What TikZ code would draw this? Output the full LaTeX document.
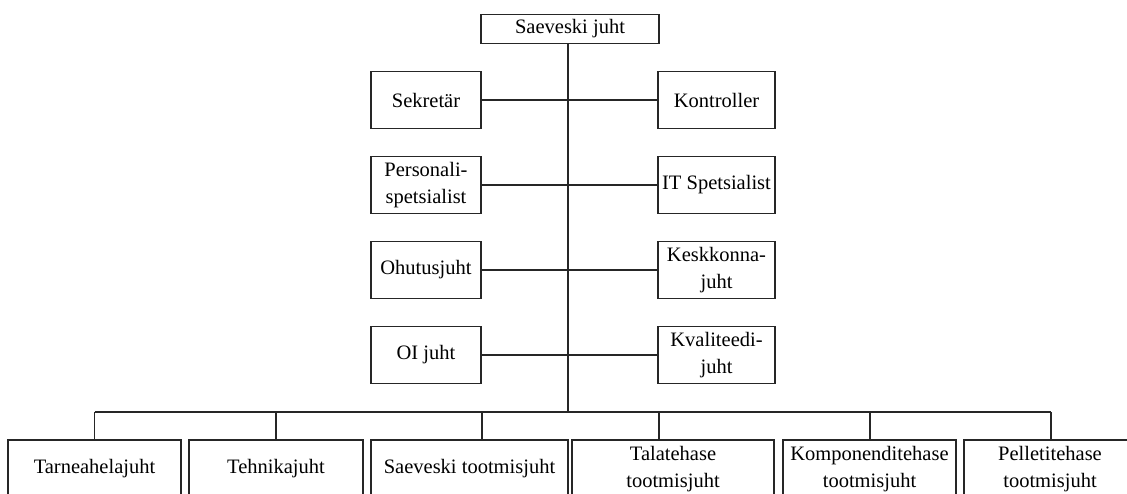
\documentclass[tikz,border=0pt]{standalone}
\usepackage{fontspec}
\setmainfont{Liberation Serif}
\begin{document}
\begin{tikzpicture}[x=1pt,y=-1pt,
  box/.style={draw=black!85, line width=1.3pt, fill=white, rectangle, inner sep=0pt,
    align=center, font=\fontsize{20.5}{27}\selectfont},
  link/.style={draw=black!85, line width=1.3pt}]
\useasboundingbox (0,0) rectangle (1127,493);
\clip (0,0) rectangle (1127,493);

% head
\node[box, minimum width=178pt, minimum height=29pt] (head) at (570,29) {Saeveski juht};

% staff positions, left and right of the trunk
\node[box, minimum width=110pt, minimum height=57pt] (l1) at (426,100) {Sekretär};
\node[box, minimum width=110pt, minimum height=57pt] (l2) at (426,185) {Personali-\\spetsialist};
\node[box, minimum width=110pt, minimum height=57pt] (l3) at (426,270) {Ohutusjuht};
\node[box, minimum width=110pt, minimum height=57pt] (l4) at (426,355) {OI juht};
\node[box, minimum width=117pt, minimum height=57pt] (r1) at (716.5,100) {Kontroller};
\node[box, minimum width=117pt, minimum height=57pt] (r2) at (716.5,185) {IT Spetsialist};
\node[box, minimum width=117pt, minimum height=57pt] (r3) at (716.5,270) {Keskkonna-\\juht};
\node[box, minimum width=117pt, minimum height=57pt] (r4) at (716.5,355) {Kvaliteedi-\\juht};

% line managers
\node[box, minimum width=173pt, minimum height=58pt] (b1) at (94.5,469) {Tarneahelajuht};
\node[box, minimum width=174pt, minimum height=58pt] (b2) at (276,469) {Tehnikajuht};
\node[box, minimum width=197pt, minimum height=58pt] (b3) at (469.5,469) {Saeveski tootmisjuht};
\node[box, minimum width=202pt, minimum height=58pt] (b4) at (673,469) {Talatehase\\tootmisjuht};
\node[box, minimum width=173pt, minimum height=58pt] (b5) at (869.5,469) {Komponenditehase\\tootmisjuht};
\node[box, minimum width=172pt, minimum height=58pt] (b6) at (1050,469) {Pelletitehase\\tootmisjuht};

% trunk and bus
\coordinate (tr) at (568,412);
\coordinate (d1) at (94.7,412);
\coordinate (d2) at (276,412);
\coordinate (d3) at (482,412);
\coordinate (d4) at (659,412);
\coordinate (d5) at (870,412);
\coordinate (d6) at (1051,412);

\draw[link] (head.south -| tr) -- (tr);
\draw[link] (d1) -- (d6);
\foreach \i in {1,...,6} {
  \draw[link] (d\i) -- (d\i |- b\i.north);
}

% staff links across the trunk
\foreach \i in {1,...,4} {
  \draw[link] (l\i.east) -- (r\i.west);
}
\end{tikzpicture}
\end{document}
